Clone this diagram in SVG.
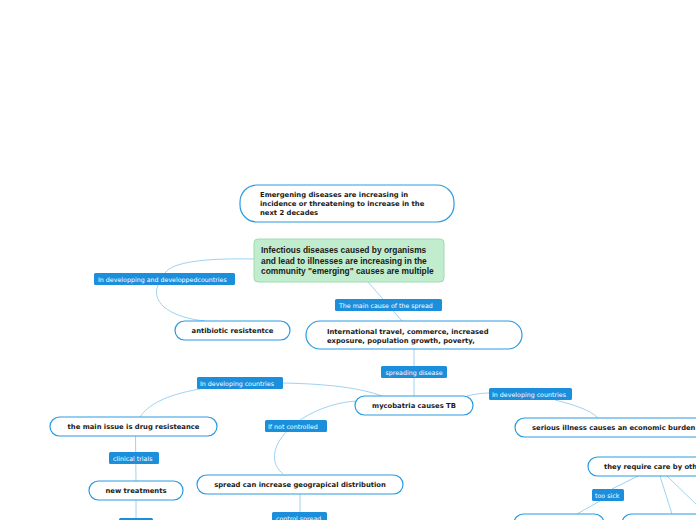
<svg xmlns="http://www.w3.org/2000/svg" width="696" height="520" viewBox="0 0 696 520">
<style>
.n{fill:#fff;stroke:#2a9be0;stroke-width:1.2}
.g{fill:#c2ecce;stroke:#9cdcb0;stroke-width:1}
.l{fill:#1b8fdc}
.t{font-family:"DejaVu Sans",Verdana,sans-serif;font-weight:bold;font-size:6.8px;fill:#1a1a1a}
.tg{font-family:"Liberation Sans",Arial,sans-serif;font-weight:bold;font-size:8.4px;fill:#1a1a1a}
.lt{font-family:"DejaVu Sans",Verdana,sans-serif;font-size:6.3px;fill:#fff}
.c{fill:none;stroke:#9fd2f4;stroke-width:1}
</style>
<rect width="696" height="520" fill="#fff"/>
<g id="connectors">
<path class="c" d="M254,259 C205,258 172,262 165,273"/>
<path class="c" d="M158,285 C150,305 175,318 205,321"/>
<path class="c" d="M368,282 L402,321"/>
<path class="c" d="M414,349 L414,396"/>
<path class="c" d="M283,383 C330,384 360,388 382,396"/>
<path class="c" d="M200,389 C165,395 148,405 140,417"/>
<path class="c" d="M135.5,436 L136,481"/>
<path class="c" d="M136,500 L136,518"/>
<path class="c" d="M356,401 C300,405 255,450 283,474"/>
<path class="c" d="M300,494 L300,512"/>
<path class="c" d="M467,396 C475,394 482,393 489,393"/>
<path class="c" d="M555,400 C575,405 590,410 598,418"/>
<path class="c" d="M638,476 L612,489"/>
<path class="c" d="M600,501 L577,514"/>
<path class="c" d="M660,476 L672,514"/>
<path class="c" d="M667,476 L700,508"/>
</g>
<g id="n1"><rect class="n" x="240" y="185" width="214" height="37" rx="17"/>
<text class="t" x="260" y="197">Emergening diseases are increasing in</text>
<text class="t" x="260" y="206">incidence or threatening to increase in the</text>
<text class="t" x="260" y="215">next 2 decades</text></g>
<g id="n2"><rect class="g" x="254" y="239" width="190" height="43" rx="4"/>
<text class="tg" x="261" y="253">Infectious diseases caused by organisms</text>
<text class="tg" x="261" y="263.5">and lead to illnesses are increasing in the</text>
<text class="tg" x="261" y="274">community "emerging" causes are multiple</text></g>
<g id="lb1"><rect class="l" x="94" y="273" width="141" height="12" rx="1.5"/><text class="lt" x="98" y="282">In developping and developpedcountries</text></g>
<g id="n3"><rect class="n" x="175" y="321" width="115" height="19" rx="9.5"/><text class="t" x="232.5" y="333" text-anchor="middle">antibiotic resistentce</text></g>
<g id="lb2"><rect class="l" x="335" y="299" width="107" height="12" rx="1.5"/><text class="lt" x="339" y="308">The main cause of the spread</text></g>
<g id="n4"><rect class="n" x="306" y="321" width="216" height="28" rx="14"/>
<text class="t" x="327" y="334">International travel, commerce, increased</text>
<text class="t" x="327" y="342.5">exposure, population growth, poverty,</text></g>
<g id="lb3"><rect class="l" x="381" y="366" width="66" height="12" rx="1.5"/><text class="lt" x="414" y="375" text-anchor="middle">spreading disease</text></g>
<g id="n5"><rect class="n" x="355" y="396" width="118" height="19" rx="9.5"/><text class="t" x="414" y="408" text-anchor="middle">mycobatria causes TB</text></g>
<g id="lb4"><rect class="l" x="197" y="377" width="86" height="12" rx="1.5"/><text class="lt" x="200" y="386">In developing countries</text></g>
<g id="n6"><rect class="n" x="50" y="417" width="167" height="19" rx="9.5"/><text class="t" x="133.5" y="429" text-anchor="middle">the main issue is drug resisteance</text></g>
<g id="lb5"><rect class="l" x="109" y="452" width="50" height="12" rx="1.5"/><text class="lt" x="113" y="461">clinical trials</text></g>
<g id="n7"><rect class="n" x="89" y="481" width="94" height="19" rx="9.5"/><text class="t" x="136" y="493" text-anchor="middle">new treatments</text></g>
<g id="lb6"><rect class="l" x="119" y="518" width="34" height="12" rx="1.5"/></g>
<g id="lb7"><rect class="l" x="265" y="420" width="62" height="12" rx="1.5"/><text class="lt" x="268" y="429">If not controlled</text></g>
<g id="n8"><rect class="n" x="197" y="475" width="206" height="19" rx="9.5"/><text class="t" x="300" y="487" text-anchor="middle">spread can increase geograpical distribution</text></g>
<g id="lb8"><rect class="l" x="272" y="512" width="55" height="12" rx="1.5"/><text class="lt" x="276" y="521">control spread</text></g>
<g id="lb9"><rect class="l" x="489" y="388" width="83" height="12" rx="1.5"/><text class="lt" x="492" y="397">In developing countries</text></g>
<g id="n9"><rect class="n" x="515" y="418" width="200" height="19" rx="9.5"/><text class="t" x="532" y="430">serious illness causes an economic burden</text></g>
<g id="n10"><rect class="n" x="588" y="457" width="160" height="19" rx="9.5"/><text class="t" x="604" y="469">they require care by others</text></g>
<g id="lb10"><rect class="l" x="592" y="489" width="32" height="12" rx="1.5"/><text class="lt" x="595" y="498">too sick</text></g>
<g id="n11"><rect class="n" x="514" y="514" width="90" height="19" rx="9.5"/></g>
<g id="n12"><rect class="n" x="622" y="514" width="100" height="19" rx="9.5"/></g>
</svg>
